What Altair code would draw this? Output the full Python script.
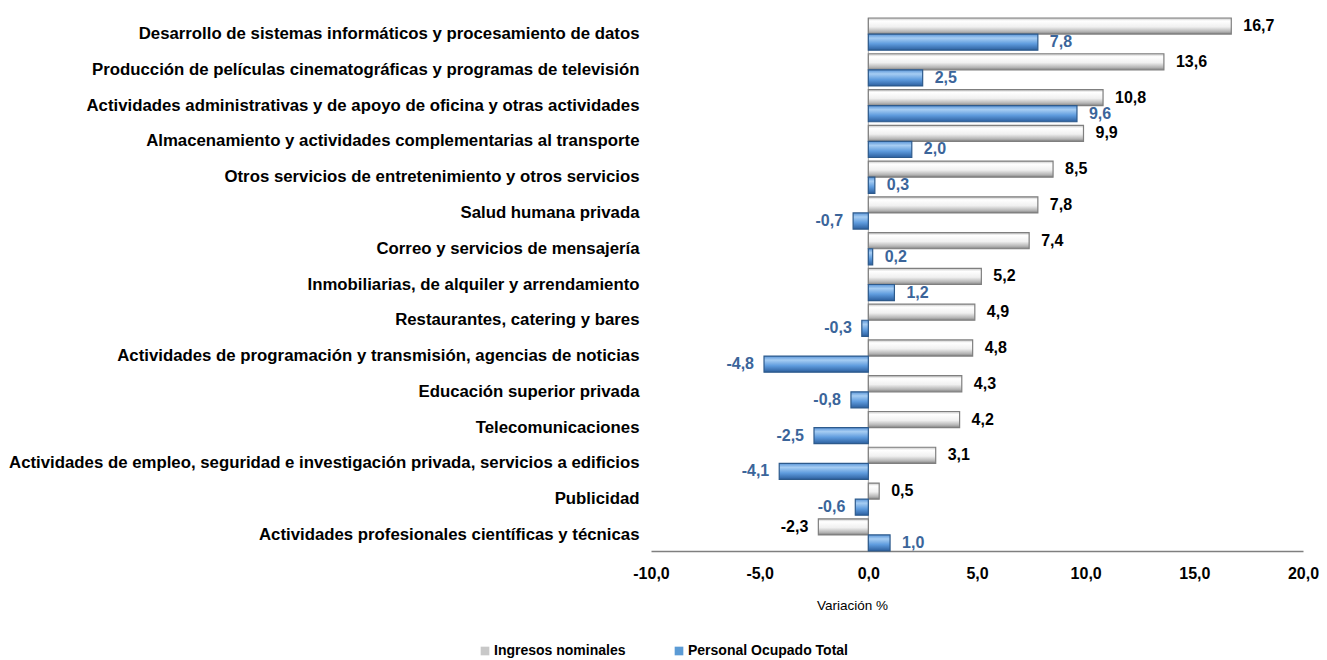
import altair as alt
import pandas as pd

categorias = [
    "Desarrollo de sistemas informáticos y procesamiento de datos",
    "Producción de películas cinematográficas y programas de televisión",
    "Actividades administrativas y de apoyo de oficina y otras actividades",
    "Almacenamiento y actividades complementarias al transporte",
    "Otros servicios de entretenimiento y otros servicios",
    "Salud humana privada",
    "Correo y servicios de mensajería",
    "Inmobiliarias, de alquiler y arrendamiento",
    "Restaurantes, catering y bares",
    "Actividades de programación y transmisión, agencias de noticias",
    "Educación superior privada",
    "Telecomunicaciones",
    "Actividades de empleo, seguridad e investigación privada, servicios a edificios",
    "Publicidad",
    "Actividades profesionales científicas y técnicas",
]
ingresos = [16.7, 13.6, 10.8, 9.9, 8.5, 7.8, 7.4, 5.2, 4.9, 4.8, 4.3, 4.2, 3.1, 0.5, -2.3]
personal = [7.8, 2.5, 9.6, 2.0, 0.3, -0.7, 0.2, 1.2, -0.3, -4.8, -0.8, -2.5, -4.1, -0.6, 1.0]
series = ["Ingresos nominales", "Personal Ocupado Total"]
x_ticks = [-10, -5, 0, 5, 10, 15, 20]

rows = []
for c, a, b in zip(categorias, ingresos, personal):
    rows.append({"cat": c, "serie": series[0], "v": a})
    rows.append({"cat": c, "serie": series[1], "v": b})
df = pd.DataFrame(rows)
df["lab"] = df["v"].map(lambda v: f"{v:.1f}".replace(".", ","))

FONT = "Liberation Sans"
BLUE_TXT = "#3b659a"

gray_grad = {
    "gradient": "linear", "x1": 0, "y1": 0, "x2": 0, "y2": 1,
    "stops": [
        {"offset": 0, "color": "#c4c4c4"},
        {"offset": 0.18, "color": "#ffffff"},
        {"offset": 0.55, "color": "#f0f0f0"},
        {"offset": 0.85, "color": "#b4b4b4"},
        {"offset": 1, "color": "#808080"},
    ],
}
blue_grad = {
    "gradient": "linear", "x1": 0, "y1": 0, "x2": 0, "y2": 1,
    "stops": [
        {"offset": 0, "color": "#5a95d8"},
        {"offset": 0.25, "color": "#a6cdf3"},
        {"offset": 0.6, "color": "#5f9cde"},
        {"offset": 1, "color": "#2c5f9e"},
    ],
}

y_enc = alt.Y(
    "cat:N", sort=categorias, title=None,
    scale=alt.Scale(paddingInner=0.1, paddingOuter=0.0),
    axis=alt.Axis(domain=False, ticks=False, labelFont=FONT, labelFontSize=16.8,
                  labelFontWeight="bold", labelColor="#000000", labelPadding=12,
                  labelLimit=900),
)
yoff = alt.YOffset("serie:N", scale=alt.Scale(domain=series, paddingInner=0.0))
x_enc = alt.X(
    "v:Q", title="Variación %",
    scale=alt.Scale(domain=[-10, 20], nice=False, zero=False),
    axis=alt.Axis(values=x_ticks, grid=False, ticks=False,
                  domainColor="#7f7f7f", domainWidth=1.5,
                  labelExpr="replace(replace(format(datum.value, '.1f'), '.', ','), '\u2212', '-')",
                  labelFont=FONT, labelFontSize=16, labelFontWeight="bold",
                  labelColor="#000000", labelPadding=14, labelFlush=False,
                  titleFont=FONT, titleFontSize=13.5, titleFontWeight="normal",
                  titleColor="#000000", titlePadding=17, titleX=201,
                  titleAlign="center"),
)

base = alt.Chart(df)

gray_bar = base.transform_filter(alt.datum.serie == series[0]).mark_bar(
    fill=gray_grad, stroke="#7f7f7f", strokeWidth=1.2
).encode(y=y_enc, yOffset=yoff, x=x_enc)

blue_bar = base.transform_filter(alt.datum.serie == series[1]).mark_bar(
    fill=blue_grad, stroke="#2d5a8c", strokeWidth=1.2
).encode(y=y_enc, yOffset=yoff, x=x_enc)


def labels(serie, color):
    sub = base.transform_filter(alt.datum.serie == serie)
    pos = sub.transform_filter(alt.datum.v >= 0).mark_text(
        align="left", dx=12, font=FONT, fontSize=16, fontWeight="bold", color=color
    ).encode(y=y_enc, yOffset=yoff, x="v:Q", text="lab:N")
    neg = sub.transform_filter(alt.datum.v < 0).mark_text(
        align="right", dx=-10, font=FONT, fontSize=16, fontWeight="bold", color=color
    ).encode(y=y_enc, yOffset=yoff, x="v:Q", text="lab:N")
    return pos + neg


zero_rule = alt.Chart(pd.DataFrame({"z": [0]})).mark_rule(
    color="#a6a6a6", strokeWidth=1
).encode(x="z:Q")

legend_layer = alt.Chart(pd.DataFrame({"serie": series, "v": [0, 0]})).mark_square(
    opacity=0, size=1
).encode(
    x="v:Q",
    color=alt.Color(
        "serie:N",
        scale=alt.Scale(domain=series, range=["#c8c8c8", "#5b9bd5"]),
        legend=alt.Legend(
            title=None, orient="none", direction="horizontal",
            legendX=-173, legendY=626, symbolType="square", symbolSize=75,
            symbolOpacity=1, symbolStrokeWidth=0,
            labelFont=FONT, labelFontSize=14, labelFontWeight="bold",
            labelColor="#000000", labelOffset=2, columnPadding=46,
        ),
    ),
)

chart = alt.layer(
    zero_rule, gray_bar, blue_bar, labels(series[0], "#000000"),
    labels(series[1], BLUE_TXT), legend_layer
).properties(
    width=652, height=533,
    padding={"left": 0, "top": 9, "right": 0, "bottom": 0},
).configure(background="#ffffff").configure_view(stroke=None)

chart.save("out.html", embed_options={"renderer": "svg", "actions": False})
